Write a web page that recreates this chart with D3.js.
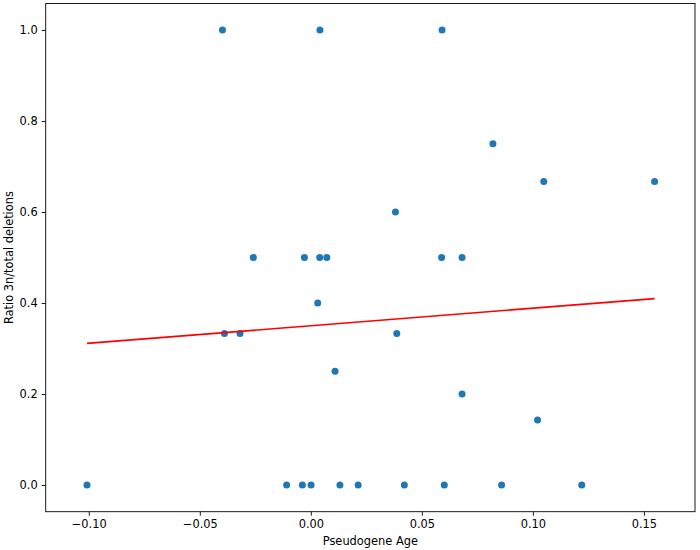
<html>
<head>
<meta charset="utf-8">
<script src="https://d3js.org/d3.v7.min.js"></script>
<style>
  body { margin: 0; background: #fff; }
  text { font-family: "DejaVu Sans", sans-serif; }
</style>
</head>
<body>
<svg width="700" height="550"></svg>
<script>
// pseudogene age vs ratio of 3n deletions
var ages = [-0.0398, 0.0041, 0.0591, 0.0820, 0.1049, 0.1548, 0.0381,
            -0.0259, -0.0029, 0.0040, 0.0072, 0.0589, 0.0681, 0.0031,
            -0.0389, -0.0319, 0.0387, 0.0109, 0.0681, 0.1021,
            -0.1008, -0.0109, -0.0038, 0.0001, 0.0131, 0.0213, 0.0421,
            0.0601, 0.0859, 0.1220];
var ratios = [1.0, 1.0, 1.0, 0.75, 0.667, 0.667, 0.6,
              0.5, 0.5, 0.5, 0.5, 0.5, 0.5, 0.4,
              0.333, 0.333, 0.333, 0.25, 0.2, 0.143,
              0, 0, 0, 0, 0, 0, 0,
              0, 0, 0];
var xTicks = [-0.10, -0.05, 0.00, 0.05, 0.10, 0.15];
var yTicks = [0.0, 0.2, 0.4, 0.6, 0.8, 1.0];
// regression line
var fitSlope = 0.386,
    fitIntercept = 0.350;

var plotL = 45.7, plotR = 695, plotT = 3.5, plotB = 511.7;

var svg = d3.select("svg");

var x = d3.scaleLinear()
   .domain([-0.1194, 0.1730])
   .range([plotL, plotR]);
var y = d3.scaleLinear()
   .domain([-0.0587, 1.0582])
   .range([plotB, plotT]);

var pts = ages.map(function(a, i) { return [a, ratios[i]]; });

svg.append("g")
   .selectAll("circle")
   .data(pts)
   .enter()
   .append("circle")
     .attr("cx", function(d) { return x(d[0]); })
     .attr("cy", function(d) { return y(d[1]); })
     .attr("r", 3.5)
     .attr("fill", "#1f77b4");

// fit line over the data range
var ext = d3.extent(ages);
var fitPts = ext.map(function(a) { return [a, fitIntercept + fitSlope * a]; });
svg.append("path")
   .datum(fitPts)
   .attr("d", d3.line()
      .x(function(d) { return x(d[0]); })
      .y(function(d) { return y(d[1]); }))
   .attr("fill", "none")
   .attr("stroke", "#ff0000")
   .attr("stroke-width", 1.7);

// axes
var xAxis = svg.append("g")
   .attr("transform", "translate(0," + plotB + ")")
   .call(d3.axisBottom(x).tickValues(xTicks).tickFormat(d3.format(".2f"))
      .tickSize(4).tickPadding(4).tickSizeOuter(0));
var yAxis = svg.append("g")
   .attr("transform", "translate(" + plotL + ",0)")
   .call(d3.axisLeft(y).tickValues(yTicks).tickFormat(d3.format(".1f"))
      .tickSize(4).tickPadding(4).tickSizeOuter(0));

[xAxis, yAxis].forEach(function(g) {
  g.select(".domain").remove();
  g.selectAll("line").attr("stroke", "#000").attr("stroke-width", 0.9);
  g.selectAll("text").attr("fill", "#000")
     .style("font-family", "DejaVu Sans").style("font-size", "11.4px");
});

// frame
svg.append("rect")
   .attr("x", plotL).attr("y", plotT)
   .attr("width", plotR - plotL).attr("height", plotB - plotT)
   .attr("fill", "none")
   .attr("stroke", "#000")
   .attr("stroke-width", 0.9);

svg.append("text")
   .attr("x", (plotL + plotR) / 2)
   .attr("y", 545)
   .attr("text-anchor", "middle")
   .style("font-size", "11.4px")
   .text("Pseudogene Age");

svg.append("text")
   .attr("transform", "translate(13," + ((plotT + plotB) / 2) + ") rotate(-90)")
   .attr("text-anchor", "middle")
   .style("font-size", "11.4px")
   .text("Ratio 3n/total deletions");
</script>
</body>
</html>
